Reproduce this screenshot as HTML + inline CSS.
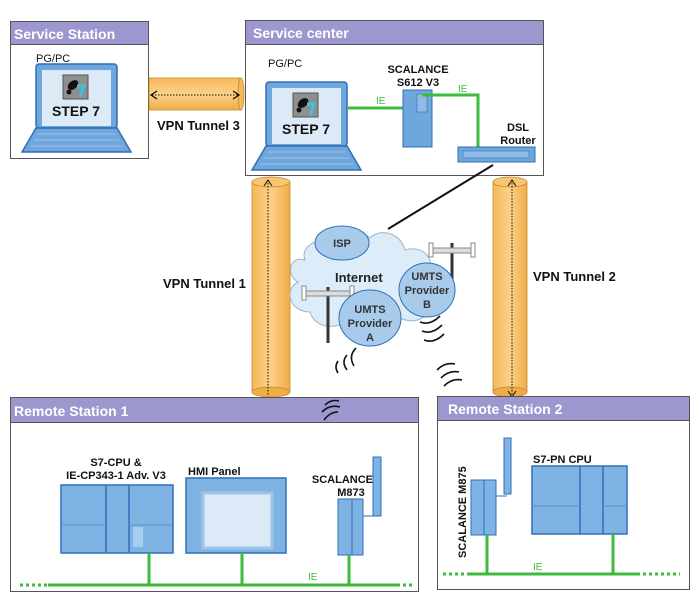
<!DOCTYPE html>
<html><head><meta charset="utf-8"><style>
html,body{margin:0;padding:0;background:#fff}
svg{display:block;font-family:"Liberation Sans",Arial,sans-serif}
</style></head><body>
<svg width="700" height="600" viewBox="0 0 700 600" xmlns="http://www.w3.org/2000/svg">
<defs>
<linearGradient id="tv" x1="0" x2="1" y1="0" y2="0"><stop offset="0" stop-color="#f5b95a"/><stop offset="0.5" stop-color="#fcd08a"/><stop offset="1" stop-color="#f0ad45"/></linearGradient>
<linearGradient id="th" x1="0" x2="0" y1="0" y2="1"><stop offset="0" stop-color="#f5b95a"/><stop offset="0.5" stop-color="#fcd08a"/><stop offset="1" stop-color="#f0ad45"/></linearGradient>
<g id="lap">
<rect x="0" y="0" width="81" height="64" rx="3" fill="#6fa6dc" stroke="#2f6fb8" stroke-width="1.5"/>
<rect x="6" y="6" width="69" height="56" fill="#dce9f7"/>
<rect x="27" y="11" width="25" height="24" fill="#8f8f8f" stroke="#555"/>
<ellipse cx="37" cy="21" rx="6" ry="4" fill="#111" transform="rotate(-40 37 21)"/>
<circle cx="33" cy="28" r="2.5" fill="#111"/>
<path d="M41 22 L48 22 L44 33" stroke="#3ac4e0" stroke-width="3" fill="none"/>
<text x="40" y="52" font-size="14" font-weight="bold" text-anchor="middle" fill="#111">STEP 7</text>
<path d="M0 64 L81 64 L95 88 L-14 88 Z" fill="#6fa6dc" stroke="#2f6fb8" stroke-width="1.5"/>
<path d="M2 70 L79 70 M-2 76 L83 76 M-6 82 L87 82" stroke="#9ec4ea" stroke-width="1"/>
</g>
</defs>

<!-- Service Station -->
<rect x="10.5" y="21.5" width="138" height="137" fill="#fff" stroke="#555"/>
<rect x="11" y="22" width="137" height="22" fill="#9c98cf"/>
<line x1="10" y1="44.5" x2="148" y2="44.5" stroke="#555"/>
<text x="14" y="39" font-size="14" font-weight="bold" fill="#fff">Service Station</text>
<text x="36" y="62" font-size="11" fill="#111">PG/PC</text>
<use href="#lap" x="36" y="64"/>

<!-- Tunnel 3 -->
<rect x="149" y="78" width="92" height="32" fill="url(#th)" stroke="#c08a30" stroke-width="0.8"/>
<ellipse cx="241" cy="94" rx="3" ry="16" fill="#f5b95a" stroke="#c08a30" stroke-width="0.8"/>
<line x1="152" y1="95" x2="238" y2="95" stroke="#111" stroke-dasharray="1.5,1.5"/>
<path d="M157 91 L151 95 L157 99 M233 91 L239 95 L233 99" stroke="#111" fill="none" stroke-width="1.3"/>
<text x="157" y="130" font-size="13" font-weight="bold" fill="#111">VPN Tunnel 3</text>

<!-- Service center -->
<rect x="245.5" y="20.5" width="298" height="155" fill="#fff" stroke="#555"/>
<rect x="246" y="21" width="297" height="23" fill="#9c98cf"/>
<line x1="245" y1="44.5" x2="543" y2="44.5" stroke="#555"/>
<text x="253" y="38" font-size="14" font-weight="bold" fill="#fff">Service center</text>
<text x="268" y="67" font-size="11" fill="#111">PG/PC</text>
<use href="#lap" x="266" y="82" transform="translate(0,0)"/>
<line x1="347" y1="108" x2="420" y2="108" stroke="#3dbb3d" stroke-width="3"/>
<text x="376" y="104" font-size="10" fill="#3dbb3d">IE</text>
<text x="418" y="73" font-size="11" font-weight="bold" text-anchor="middle" fill="#111">SCALANCE</text>
<text x="418" y="86" font-size="11" font-weight="bold" text-anchor="middle" fill="#111">S612 V3</text>
<rect x="403" y="90" width="29" height="57" fill="#6fa6dc" stroke="#2f6fb8"/>
<rect x="417" y="94" width="10" height="18" fill="#8fbce6" stroke="#2f6fb8" stroke-width="0.6"/>
<polyline points="422,95 478,95 478,147" fill="none" stroke="#3dbb3d" stroke-width="3"/>
<text x="458" y="92" font-size="10" fill="#3dbb3d">IE</text>
<text x="518" y="131" font-size="11" font-weight="bold" text-anchor="middle" fill="#111">DSL</text>
<text x="518" y="144" font-size="11" font-weight="bold" text-anchor="middle" fill="#111">Router</text>
<rect x="458" y="147" width="77" height="15" fill="#6fa6dc" stroke="#2f6fb8"/>
<rect x="463" y="151" width="66" height="7" fill="#8fbce6" stroke="#2f6fb8" stroke-width="0.5"/>
<line x1="493" y1="165" x2="388" y2="229" stroke="#111" stroke-width="2"/>

<!-- Tunnels 1 & 2 -->
<rect x="252" y="182" width="38" height="210" fill="url(#tv)" stroke="#c08a30" stroke-width="0.8"/>
<ellipse cx="271" cy="182" rx="19" ry="5" fill="#f8c572" stroke="#c08a30" stroke-width="0.8"/>
<ellipse cx="271" cy="392" rx="19" ry="5" fill="#f0ad45" stroke="#c08a30" stroke-width="0.8"/>
<line x1="268" y1="180" x2="268" y2="396" stroke="#111" stroke-dasharray="1.5,1.5"/>
<path d="M264 186 L268 180 L272 186" stroke="#111" fill="none"/>
<rect x="493" y="182" width="34" height="210" fill="url(#tv)" stroke="#c08a30" stroke-width="0.8"/>
<ellipse cx="510" cy="182" rx="17" ry="5" fill="#f8c572" stroke="#c08a30" stroke-width="0.8"/>
<ellipse cx="510" cy="392" rx="17" ry="5" fill="#f0ad45" stroke="#c08a30" stroke-width="0.8"/>
<line x1="512" y1="180" x2="512" y2="396" stroke="#111" stroke-dasharray="1.5,1.5"/>
<path d="M508 186 L512 180 L516 186 M508 391 L512 397 L516 391" stroke="#111" fill="none"/>
<text x="163" y="288" font-size="13" font-weight="bold" fill="#111">VPN Tunnel 1</text>
<text x="533" y="281" font-size="13" font-weight="bold" fill="#111">VPN Tunnel 2</text>

<!-- Cloud -->
<g fill="#dcecf9" stroke="#9fb4c8" stroke-width="1">
<path d="M305 260 C290 255 285 275 298 282 C283 290 290 312 310 312 C315 330 340 330 350 318 L400 318 C415 325 430 318 428 305 C445 300 445 280 430 275 C435 255 420 245 405 250 C400 232 380 228 370 238 C360 228 335 230 330 240 C315 238 300 248 305 260 Z"/>
</g>
<ellipse cx="342" cy="243" rx="27" ry="17" fill="#a8cbeb" stroke="#2f6fb8"/>
<text x="342" y="247" font-size="11" font-weight="bold" text-anchor="middle" fill="#333">ISP</text>
<text x="335" y="282" font-size="13" font-weight="bold" fill="#222">Internet</text>
<!-- antennas -->
<g>
<line x1="452" y1="243" x2="452" y2="280" stroke="#333" stroke-width="3"/>
<rect x="431" y="248" width="42" height="5" fill="#ddd" stroke="#888"/>
<rect x="429" y="243" width="4" height="14" fill="#fff" stroke="#888"/>
<rect x="471" y="243" width="4" height="14" fill="#fff" stroke="#888"/>
<line x1="328" y1="287" x2="328" y2="343" stroke="#333" stroke-width="3"/>
<rect x="305" y="291" width="46" height="5" fill="#ddd" stroke="#888"/>
<rect x="302" y="286" width="4" height="14" fill="#fff" stroke="#888"/>
<rect x="350" y="286" width="4" height="14" fill="#fff" stroke="#888"/>
</g>
<ellipse cx="427" cy="290" rx="28" ry="27" fill="#a8cbeb" stroke="#2f6fb8"/>
<text x="427" y="280" font-size="11" font-weight="bold" text-anchor="middle" fill="#333">UMTS</text>
<text x="427" y="294" font-size="11" font-weight="bold" text-anchor="middle" fill="#333">Provider</text>
<text x="427" y="308" font-size="11" font-weight="bold" text-anchor="middle" fill="#333">B</text>
<ellipse cx="370" cy="318" rx="31" ry="28" fill="#a8cbeb" stroke="#2f6fb8"/>
<text x="370" y="313" font-size="11" font-weight="bold" text-anchor="middle" fill="#333">UMTS</text>
<text x="370" y="327" font-size="11" font-weight="bold" text-anchor="middle" fill="#333">Provider</text>
<text x="370" y="341" font-size="11" font-weight="bold" text-anchor="middle" fill="#333">A</text>
<!-- radio waves -->
<g stroke="#111" stroke-width="1.6" fill="none">
<path d="M356 348 q-8 8 -2 18 M347 355 q-6 7 0 15 M338 361 q-4 6 0 12"/>
<path d="M420 322 q10 4 20 -6 M422 331 q10 4 20 -6 M424 340 q10 4 20 -6"/>
<path d="M437 370 q8 -8 18 -6 M441 378 q8 -8 18 -6 M444 386 q8 -8 18 -6"/>
<path d="M325 405 q6 -6 14 -4 M322 412 q8 -8 18 -5 M324 420 q6 -8 14 -8"/>
</g>

<!-- Remote Station 1 -->
<rect x="10.5" y="397.5" width="408" height="194" fill="#fff" stroke="#555"/>
<rect x="11" y="398" width="407" height="24" fill="#9c98cf"/>
<line x1="10" y1="422.5" x2="418" y2="422.5" stroke="#555"/>
<text x="14" y="416" font-size="14" font-weight="bold" fill="#fff">Remote Station 1</text>
<path d="M325 405 q6 -6 14 -4 M322 412 q8 -8 18 -5 M324 420 q6 -8 14 -8" stroke="#111" stroke-width="1.6" fill="none"/>
<text x="116" y="466" font-size="11" font-weight="bold" text-anchor="middle" fill="#111">S7-CPU &amp;</text>
<text x="116" y="479" font-size="11" font-weight="bold" text-anchor="middle" fill="#111">IE-CP343-1 Adv. V3</text>
<rect x="61" y="485" width="112" height="68" fill="#7fb3e3" stroke="#2f6fb8" stroke-width="1.5"/>
<line x1="106" y1="485" x2="106" y2="553" stroke="#2f6fb8" stroke-width="1.5"/>
<line x1="129" y1="485" x2="129" y2="553" stroke="#2f6fb8" stroke-width="1.5"/>
<line x1="61" y1="525" x2="106" y2="525" stroke="#5b93cf"/>
<line x1="129" y1="525" x2="173" y2="525" stroke="#5b93cf"/>
<rect x="133" y="527" width="10" height="20" fill="#a9cdee"/>
<text x="188" y="475" font-size="11" font-weight="bold" fill="#111">HMI Panel</text>
<rect x="186" y="478" width="100" height="75" fill="#7fb3e3" stroke="#2f6fb8" stroke-width="1.5"/>
<rect x="203" y="493" width="69" height="55" fill="#dce9f7" stroke="#9ec4ea" stroke-width="3"/>
<text x="373" y="483" font-size="11" font-weight="bold" text-anchor="end" fill="#111">SCALANCE</text>
<text x="351" y="496" font-size="11" font-weight="bold" text-anchor="middle" fill="#111">M873</text>
<rect x="338" y="499" width="25" height="56" fill="#7fb3e3" stroke="#2f6fb8"/>
<line x1="352" y1="499" x2="352" y2="555" stroke="#2f6fb8"/>
<rect x="373" y="457" width="8" height="59" fill="#7fb3e3" stroke="#2f6fb8"/>
<polyline points="363,516 377,516" stroke="#2f6fb8" fill="none"/>
<line x1="48" y1="585" x2="397" y2="585" stroke="#3dbb3d" stroke-width="3"/>
<line x1="20" y1="585" x2="48" y2="585" stroke="#3dbb3d" stroke-width="3" stroke-dasharray="3,3"/>
<line x1="397" y1="585" x2="414" y2="585" stroke="#3dbb3d" stroke-width="3" stroke-dasharray="3,3"/>
<line x1="149" y1="553" x2="149" y2="585" stroke="#3dbb3d" stroke-width="3"/>
<line x1="242" y1="553" x2="242" y2="585" stroke="#3dbb3d" stroke-width="3"/>
<line x1="349" y1="555" x2="349" y2="585" stroke="#3dbb3d" stroke-width="3"/>
<text x="308" y="580" font-size="10" fill="#3dbb3d">IE</text>

<!-- Remote Station 2 -->
<rect x="437.5" y="396.5" width="252" height="193" fill="#fff" stroke="#555"/>
<rect x="438" y="397" width="251" height="23" fill="#9c98cf"/>
<line x1="437" y1="420.5" x2="689" y2="420.5" stroke="#555"/>
<text x="448" y="414" font-size="14" font-weight="bold" fill="#fff">Remote Station 2</text>
<text x="466" y="558" font-size="11" font-weight="bold" fill="#111" transform="rotate(-90 466 558)">SCALANCE M875</text>
<rect x="471" y="480" width="25" height="55" fill="#7fb3e3" stroke="#2f6fb8"/>
<line x1="484" y1="480" x2="484" y2="535" stroke="#2f6fb8"/>
<rect x="504" y="438" width="7" height="56" fill="#7fb3e3" stroke="#2f6fb8"/>
<line x1="496" y1="496" x2="507" y2="496" stroke="#2f6fb8"/>
<text x="533" y="463" font-size="11" font-weight="bold" fill="#111">S7-PN CPU</text>
<rect x="532" y="466" width="95" height="68" fill="#7fb3e3" stroke="#2f6fb8" stroke-width="1.5"/>
<line x1="580" y1="466" x2="580" y2="534" stroke="#2f6fb8" stroke-width="1.5"/>
<line x1="603" y1="466" x2="603" y2="534" stroke="#2f6fb8" stroke-width="1.5"/>
<line x1="532" y1="506" x2="580" y2="506" stroke="#5b93cf"/>
<line x1="603" y1="506" x2="627" y2="506" stroke="#5b93cf"/>
<line x1="470" y1="574" x2="637" y2="574" stroke="#3dbb3d" stroke-width="3"/>
<line x1="443" y1="574" x2="470" y2="574" stroke="#3dbb3d" stroke-width="3" stroke-dasharray="3,3"/>
<line x1="637" y1="574" x2="680" y2="574" stroke="#3dbb3d" stroke-width="3" stroke-dasharray="3,3"/>
<line x1="487" y1="535" x2="487" y2="574" stroke="#3dbb3d" stroke-width="3"/>
<line x1="613" y1="534" x2="613" y2="574" stroke="#3dbb3d" stroke-width="3"/>
<text x="533" y="570" font-size="10" fill="#3dbb3d">IE</text>
</svg>
</body></html>
